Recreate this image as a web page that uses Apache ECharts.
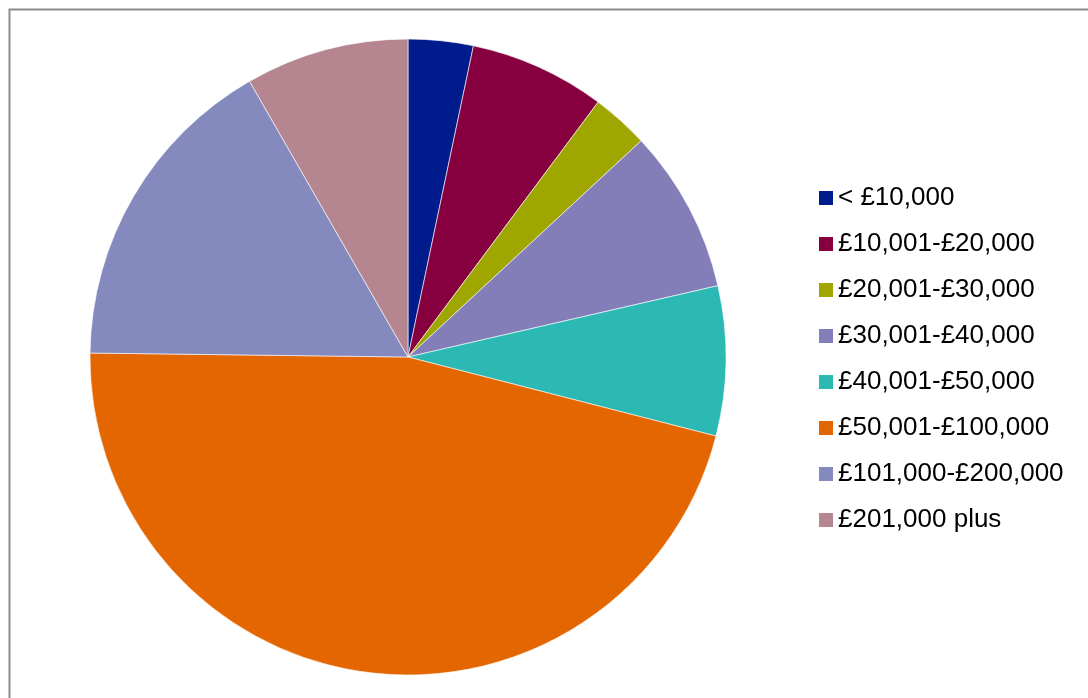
<!DOCTYPE html>
<html>
<head>
<meta charset="utf-8">
<script src="https://cdn.jsdelivr.net/npm/echarts@6/dist/echarts.min.js"></script>
<style>
  html, body { margin: 0; padding: 0; background: #fff; }
  #chart { width: 1088px; height: 698px; }
</style>
</head>
<body>
<div id="chart"></div>
<script>
// income bands and share of the pie (%)
const bands = [
  "< £10,000",
  "£10,001-£20,000",
  "£20,001-£30,000",
  "£30,001-£40,000",
  "£40,001-£50,000",
  "£50,001-£100,000",
  "£101,000-£200,000",
  "£201,000 plus",
];
const shares = [3.3, 6.9, 2.9, 8.3, 7.6, 46.2, 16.5, 8.3];
const colors = [
  "#001c8c", "#860040", "#a0a600", "#837db8",
  "#2cb9b4", "#e46600", "#8489be", "#b5868f",
];

const mychart = echarts.init(document.getElementById("chart"));
mychart.setOption({
  animation: false,
  color: colors,
  graphic: [
    {
      type: "rect",
      shape: { x: 9.5, y: 9.5, width: 1200, height: 1000 },
      style: { fill: "none", stroke: "#8c8c8c", lineWidth: 2 },
      silent: true,
    },
  ],
  legend: {
    orient: "vertical",
    left: 819,
    top: 185,
    icon: "rect",
    itemWidth: 14,
    itemHeight: 14,
    itemGap: 20,
    itemStyle: { borderWidth: 0 },
    padding: 0,
    textStyle: {
      fontFamily: "Liberation Sans, Arial, sans-serif",
      fontSize: 26,
      lineHeight: 26,
      color: "#000",
    },
    data: bands,
  },
  series: [
    {
      type: "pie",
      center: [408, 357],
      radius: 318,
      startAngle: 90,
      clockwise: true,
      label: { show: false },
      labelLine: { show: false },
      emphasis: { disabled: true },
      itemStyle: { borderColor: "#fff", borderWidth: 0.6 },
      data: bands.map((name, i) => ({ name: name, value: shares[i] })),
    },
  ],
});
</script>
</body>
</html>
